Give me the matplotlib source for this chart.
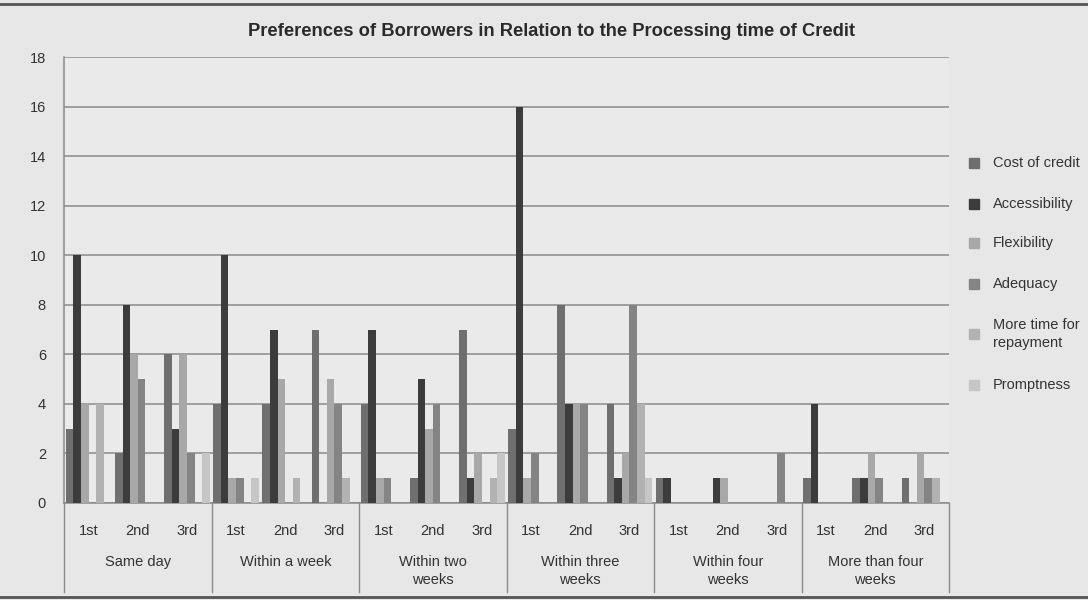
import numpy as np
import matplotlib
matplotlib.use('Agg')
import matplotlib.pyplot as plt
from matplotlib.transforms import blended_transform_factory
from matplotlib.lines import Line2D
from matplotlib.patches import Rectangle

groups = ["Same day", "Within a week", "Within two\nweeks", "Within three\nweeks",
          "Within four\nweeks", "More than four\nweeks"]
ranks = ["1st", "2nd", "3rd"]
series_names = ["Cost of credit", "Accessibility", "Flexibility", "Adequacy",
                "More time for\nrepayment", "Promptness"]

cost_of_credit = [3, 2, 6, 4, 4, 7, 4, 1, 7, 3, 8, 4, 1, 0, 0, 1, 1, 1]
accessibility  = [10, 8, 3, 10, 7, 0, 7, 5, 1, 16, 4, 1, 1, 1, 0, 4, 1, 0]
flexibility    = [4, 6, 6, 1, 5, 5, 1, 3, 2, 1, 4, 2, 0, 1, 0, 0, 2, 2]
adequacy       = [0, 5, 2, 1, 0, 4, 1, 4, 0, 2, 4, 8, 0, 0, 2, 0, 1, 1]
more_time      = [4, 0, 0, 0, 1, 1, 0, 0, 1, 0, 0, 4, 0, 0, 0, 0, 0, 1]
promptness     = [0, 0, 2, 1, 0, 0, 0, 0, 2, 0, 0, 1, 0, 0, 0, 0, 0, 0]

series = [cost_of_credit, accessibility, flexibility, adequacy, more_time, promptness]
colors = ['#6f6f6f', '#3c3c3c', '#a8a8a8', '#848484', '#b2b2b2', '#c6c6c6']

FONT = ['Liberation Sans Narrow', 'Liberation Sans', 'DejaVu Sans']
plt.rcParams['font.family'] = FONT

W, H = 1088, 600
fig = plt.figure(figsize=(W / 100, H / 100), dpi=100, facecolor='#e7e7e7')
ax = fig.add_axes([64 / W, 97 / H, 885 / W, 446 / H])
ax.set_facecolor('#eaeaea')

n = len(cost_of_credit)
x = np.arange(n) + 0.5
w = 7.6 / 49.2
for j, (vals, c) in enumerate(zip(series, colors)):
    ax.bar(x + (j - 2.5) * w, vals, width=w, color=c, linewidth=0, zorder=3)

ax.set_xlim(0, n)
ax.set_ylim(0, 18)
ax.set_yticks(range(0, 19, 2))
ax.set_xticks([])
ax.yaxis.grid(True, color='#8a8a8a', linewidth=1.1, zorder=1)
ax.set_axisbelow(True)
for s in ['top', 'right']:
    ax.spines[s].set_visible(False)
ax.spines['left'].set_color('#8a8a8a')
ax.spines['bottom'].set_color('#8a8a8a')
ax.spines['left'].set_linewidth(1.1)
ax.spines['bottom'].set_linewidth(1.1)
ax.tick_params(axis='y', length=0, pad=13, labelsize=10.5, labelcolor='#333333')

# multi-level category axis
tr = blended_transform_factory(ax.transData, fig.transFigure)
for i in range(0, n + 1, 3):
    fig.add_artist(Line2D([i, i], [97 / H, 8 / H], transform=tr, color='#8a8a8a', lw=1.0))
for i in range(n):
    ax.text(x[i], (H - 531) / H, ranks[i % 3], transform=tr, ha='center', va='center',
            fontsize=10.5, color='#333333')
for g, name in enumerate(groups):
    ax.text(3 * g + 1.5, (H - 571) / H if '\n' in name else (H - 562) / H, name,
            transform=tr, ha='center', va='center', fontsize=10.5, color='#333333',
            linespacing=1.3)

# title
fig.text(552 / W, (H - 31) / H, "Preferences of Borrowers in Relation to the Processing time of Credit",
         ha='center', va='center', fontsize=13.2, fontweight='bold', color='#2a2a2a')

# legend
leg_y = [163, 204, 243, 284, 334, 385]
for name, c, yy in zip(series_names, colors, leg_y):
    fig.add_artist(Rectangle(((969) / W, (H - yy - 5) / H), 10 / W, 10 / H,
                             transform=fig.transFigure, color=c))
    fig.text(993 / W, (H - yy) / H, name, ha='left', va='center', fontsize=10.5,
             color='#333333', linespacing=1.35)

# outer frame
fig.add_artist(Line2D([0, 1], [1 - 4 / H, 1 - 4 / H], transform=fig.transFigure, color='#555555', lw=2))
fig.add_artist(Line2D([0, 1], [3 / H, 3 / H], transform=fig.transFigure, color='#555555', lw=2))

fig.savefig('out.png', dpi=100, facecolor=fig.get_facecolor())
